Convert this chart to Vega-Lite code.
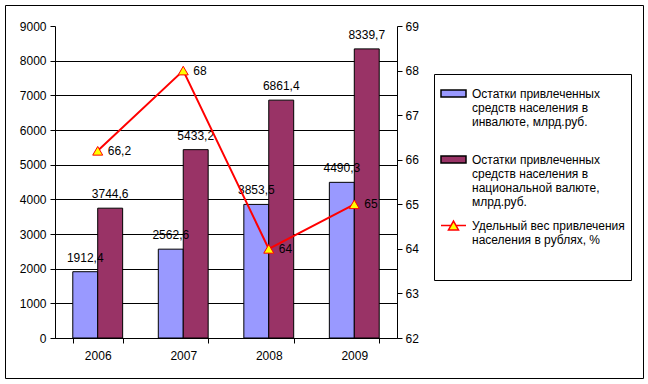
{
  "$schema": "https://vega.github.io/schema/vega-lite/v6.json",
  "width": 638,
  "height": 373,
  "autosize": "none",
  "padding": {"left": 5, "top": 5, "right": 5, "bottom": 6},
  "background": "white",
  "config": {
    "view": {"stroke": "black", "strokeWidth": 1},
    "font": "Liberation Sans",
    "axis": {"labelFont": "Liberation Sans", "labelFontSize": 12, "labelColor": "black", "domainColor": "black", "tickColor": "black", "tickSize": 5, "title": null, "grid": false}
  },
  "datasets": {
    "bars": [
      {"year": "2006", "series": "fx", "value": 1912.4, "label": "1912,4"},
      {"year": "2006", "series": "rub", "value": 3744.6, "label": "3744,6"},
      {"year": "2007", "series": "fx", "value": 2562.6, "label": "2562,6"},
      {"year": "2007", "series": "rub", "value": 5433.2, "label": "5433,2"},
      {"year": "2008", "series": "fx", "value": 3853.5, "label": "3853,5"},
      {"year": "2008", "series": "rub", "value": 6861.4, "label": "6861,4"},
      {"year": "2009", "series": "fx", "value": 4490.3, "label": "4490,3"},
      {"year": "2009", "series": "rub", "value": 8339.7, "label": "8339,7"}
    ],
    "share": [
      {"year": "2006", "series": "pct", "pct": 66.2, "label": "66,2"},
      {"year": "2007", "series": "pct", "pct": 68, "label": "68"},
      {"year": "2008", "series": "pct", "pct": 64, "label": "64"},
      {"year": "2009", "series": "pct", "pct": 65, "label": "65"}
    ]
  },
  "encoding": {
    "x": {
      "field": "year", "type": "nominal",
      "scale": {"range": [50, 392], "paddingInner": 0.417, "paddingOuter": 0.208},
      "axis": {"orient": "bottom", "offset": -40, "tickBand": "extent", "labelPadding": 7, "labelAngle": 0}
    }
  },
  "layer": [
    {
      "data": {"name": "bars"},
      "layer": [
        {
          "mark": {"type": "bar", "stroke": "black", "strokeWidth": 1},
          "encoding": {
            "xOffset": {"field": "series", "type": "nominal", "scale": {"domain": ["fx", "rub"]}},
            "y": {
              "field": "value", "type": "quantitative",
              "scale": {"domain": [0, 9000], "range": [333, 21], "nice": false},
              "axis": {
                "orient": "left", "offset": -50, "format": "d",
                "values": [0, 1000, 2000, 3000, 4000, 5000, 6000, 7000, 8000, 9000],
                "grid": true, "gridColor": "black",
                "gridOpacity": {"condition": {"test": "datum.value >= 9000", "value": 0}, "value": 1},
                "labelPadding": 4
              }
            },
            "fill": {
              "field": "series", "type": "nominal",
              "scale": {"domain": ["fx", "rub", "pct"], "range": ["#9999ff", "#993366", "#ffff00"]},
              "legend": {
                "orient": "none", "legendX": 429, "legendY": 69,
                "title": null, "strokeColor": "black", "padding": 6,
                "labelFont": "Liberation Sans", "labelFontSize": 12, "labelColor": "black",
                "symbolSize": 625, "rowPadding": 4, "labelOffset": 5, "labelLimit": 300,
                "labelExpr": "datum.value == 'fx' ? ['Остатки привлеченных', 'средств населения в', 'инвалюте,  млрд.руб.', ''] : datum.value == 'rub' ? ['Остатки привлеченных', 'средств населения в', 'национальной валюте,', 'млрд.руб.'] : ['Удельный вес привлечения', 'населения в рублях, %', '', '']"
              }
            }
          }
        },
        {
          "mark": {"type": "text", "dy": -14, "baseline": "middle", "fontSize": 12, "font": "Liberation Sans", "color": "black"},
          "encoding": {
            "xOffset": {"field": "series", "type": "nominal"},
            "y": {"field": "value", "type": "quantitative"},
            "text": {"field": "label"}
          }
        }
      ]
    },
    {
      "data": {"name": "share"},
      "layer": [
        {
          "mark": {"type": "line", "color": "#ff0000", "strokeWidth": 2},
          "encoding": {
            "y": {
              "field": "pct", "type": "quantitative",
              "scale": {"domain": [62, 69], "range": [333, 21], "nice": false, "zero": false},
              "axis": {"orient": "right", "offset": -246, "format": "d", "values": [62, 63, 64, 65, 66, 67, 68, 69], "labelPadding": 3, "grid": false}
            }
          }
        },
        {
          "mark": {"type": "point", "filled": true, "size": 0, "opacity": 1, "strokeWidth": 1.5},
          "encoding": {
            "y": {"field": "pct", "type": "quantitative"},
            "fill": {"field": "series", "type": "nominal"},
            "shape": {
              "field": "series", "type": "nominal",
              "scale": {"domain": ["fx", "rub", "pct"], "range": ["M-1,-0.28H1V0.28H-1Z", "M-1,-0.28H1V0.28H-1Z", "M-1,0H-0.2M0.2,0H1M-0.4,0.35L0,-0.35L0.4,0.35Z"]}
            },
            "stroke": {
              "field": "series", "type": "nominal",
              "scale": {"domain": ["fx", "rub", "pct"], "range": ["black", "black", "#ff0000"]}
            }
          }
        },
        {
          "mark": {"type": "point", "shape": "triangle-up", "filled": true, "fill": "#ffff00", "stroke": "#ff0000", "strokeWidth": 1, "size": 100, "opacity": 1},
          "encoding": {"y": {"field": "pct", "type": "quantitative"}}
        },
        {
          "mark": {"type": "text", "dx": 10, "align": "left", "baseline": "middle", "fontSize": 12, "font": "Liberation Sans", "color": "black"},
          "encoding": {
            "y": {"field": "pct", "type": "quantitative"},
            "text": {"field": "label"}
          }
        }
      ]
    }
  ],
  "resolve": {"scale": {"y": "independent"}}
}
